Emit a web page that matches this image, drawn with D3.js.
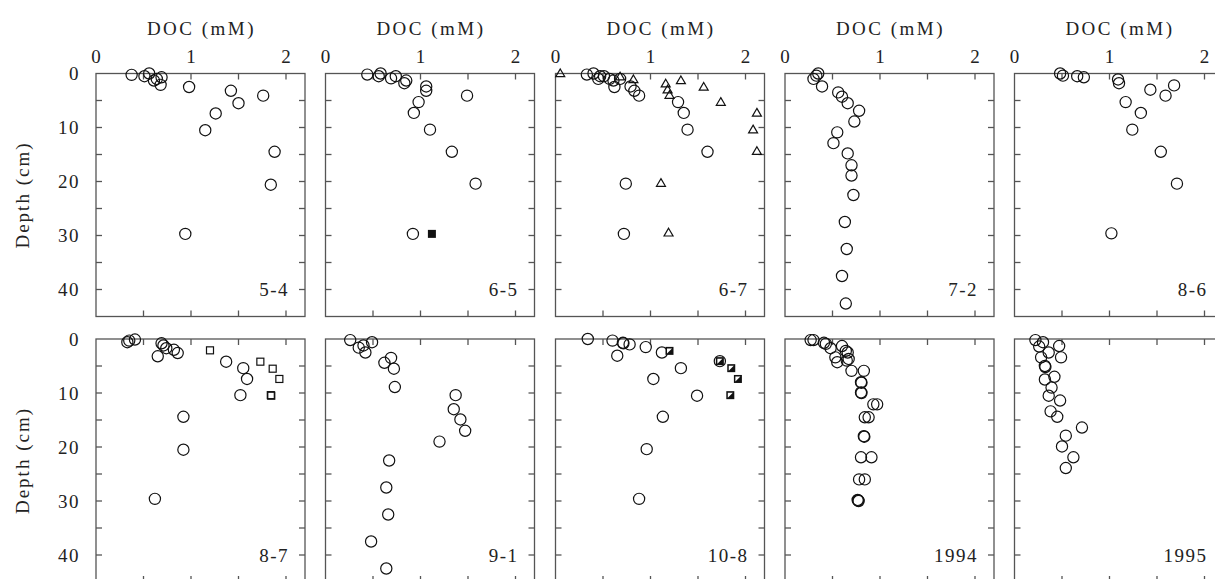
<!DOCTYPE html>
<html>
<head>
<meta charset="utf-8">
<script src="https://cdn.jsdelivr.net/npm/d3@7"></script>
<style>
  body { margin: 0; background: #fff; }
</style>
</head>
<body>
<div id="chart"></div>
<script>
// DOC (mM) vs depth (cm), [doc, depth]
var p54 = [[0.375,0.25],[0.51,0.5],[0.56,0],[0.61,1.3],[0.64,1.0],[0.68,2.1],[0.69,0.7],[0.98,2.5],
  [1.42,3.2],[1.50,5.5],[1.76,4.1],[1.26,7.4],[1.15,10.5],[1.88,14.5],[1.84,20.6],[0.94,29.7]];
var p65 = [[0.44,0.2],[0.58,0],[0.56,0.5],[0.69,0.9],[0.74,0.5],[0.83,1.8],[0.85,1.3],[1.06,2.4],
  [1.06,3.2],[1.49,4.1],[0.98,5.3],[0.93,7.3],[1.10,10.4],[1.33,14.5],[1.58,20.4],[0.92,29.7]];
var p65fill = [[1.12,29.7]];
var p67 = [[0.33,0.2],[0.40,0],[0.45,1.0],[0.47,0.5],[0.51,0.5],[0.57,1.0],[0.61,1.3],[0.62,2.5],
  [0.68,1.0],[0.79,2.4],[0.83,3.2],[0.88,4.1],[1.29,5.3],[1.35,7.3],[1.39,10.4],[1.60,14.5],
  [0.74,20.4],[0.72,29.7]];
var p67tri = [[0.05,0],[0.68,0.6],[0.82,1.1],[1.16,1.9],[1.18,3.0],[1.20,4.0],[1.32,1.3],[1.56,2.5],
  [1.74,5.3],[2.12,7.3],[2.08,10.4],[2.12,14.4],[1.11,20.3],[1.19,29.5]];
var p72 = [[0.35,0],[0.33,0.4],[0.30,1.0],[0.39,2.4],[0.56,3.5],[0.60,4.3],[0.66,5.5],[0.78,6.9],
  [0.73,8.9],[0.55,10.9],[0.51,12.9],[0.66,14.8],[0.70,17.0],[0.70,18.9],[0.72,22.5],[0.63,27.5],
  [0.65,32.5],[0.60,37.5],[0.64,42.6]];
var p86 = [[0.48,0],[0.51,0.4],[0.66,0.5],[0.73,0.7],[1.09,1.1],[1.10,1.8],[1.68,2.2],[1.43,3.0],
  [1.59,4.1],[1.17,5.3],[1.33,7.3],[1.24,10.4],[1.54,14.5],[1.71,20.4],[1.02,29.6]];
var p87 = [[0.33,0.6],[0.35,0.3],[0.41,0.1],[0.69,0.8],[0.71,1.2],[0.74,1.7],[0.65,3.2],[0.82,2.0],
  [0.86,2.6],[1.37,4.2],[1.55,5.4],[1.59,7.4],[1.52,10.4],[0.92,14.4],[0.92,20.5],[0.62,29.6]];
var p87sq = [[1.20,2.1],[1.73,4.2],[1.86,5.5],[1.93,7.4],[1.84,10.4],[1.845,10.5]];
var p91 = [[0.26,0.2],[0.35,1.6],[0.40,1.2],[0.42,2.5],[0.49,0.6],[0.69,3.5],[0.62,4.4],[0.72,5.5],
  [0.73,8.9],[1.37,10.4],[1.35,13.0],[1.42,14.9],[1.47,17.0],[1.20,19.0],[0.67,22.5],[0.64,27.5],
  [0.66,32.5],[0.48,37.5],[0.64,42.5]];
var p108 = [[0.34,0],[0.60,0.3],[0.71,0.7],[0.715,0.8],[0.78,1.0],[0.65,3.1],[0.95,1.5],[1.12,2.5],
  [1.32,5.4],[1.03,7.4],[1.49,10.5],[1.13,14.4],[0.96,20.4],[0.88,29.6],[1.73,4.1]];
var p108half = [[1.20,2.2],[1.73,4.1],[1.85,5.4],[1.92,7.4],[1.84,10.4]];
var p1994 = [[0.27,0.2],[0.30,0.2],[0.41,0.7],[0.43,0.9],[0.48,1.7],[0.60,1.3],[0.64,2.2],[0.66,2.5],
  [0.53,3.4],[0.55,4.3],[0.67,3.7],[0.65,4.0],[0.70,5.9],[0.83,5.9],[0.80,8.0],[0.805,8.1],
  [0.80,9.9],[0.805,10.0],[0.93,12.1],[0.97,12.1],[0.84,14.5],[0.88,14.5],[0.83,18.0],[0.835,18.1],
  [0.80,21.9],[0.91,21.9],[0.78,26.0],[0.84,26.0],[0.77,29.9],[0.775,30.0],[0.765,29.8]];
var p1995 = [[0.22,0.2],[0.30,0.6],[0.26,1.4],[0.36,2.5],[0.47,1.3],[0.49,3.4],[0.28,3.4],[0.32,5.0],
  [0.325,5.2],[0.32,7.5],[0.42,7.0],[0.39,9.0],[0.36,10.5],[0.48,11.4],[0.38,13.4],[0.45,14.4],
  [0.71,16.4],[0.54,17.9],[0.50,19.9],[0.62,21.9],[0.54,23.9]];

var panelLabels = ["5-4","6-5","6-7","7-2","8-6","8-7","9-1","10-8","1994","1995"];
var xTickLabels = [0, 1, 2];
var yTickLabels = [0, 10, 20, 30, 40];

var panels = [
  {circ: p54}, {circ: p65, fill: p65fill}, {circ: p67, tri: p67tri}, {circ: p72}, {circ: p86},
  {circ: p87, sq: p87sq}, {circ: p91}, {circ: p108, half: p108half}, {circ: p1994}, {circ: p1995}
];

var W = 1215, H = 579;
var pw = 209, ph = 243;
var lefts = [96, 325.5, 555.5, 785, 1014.5];
var tops = [73.5, 339];
var axisCol = "#555";
var serif = "'Liberation Serif', 'DejaVu Serif', serif";

var svg = d3.select("#chart").append("svg")
  .attr("width", W).attr("height", H)
  .attr("font-family", serif);

var x = d3.scaleLinear().domain([0, 2.2]).range([0, pw]);
var y = d3.scaleLinear().domain([0, 45]).range([0, ph]);

function label(sel) {
  return sel.attr("font-family", serif).attr("font-size", 19).attr("fill", "#222");
}

panels.forEach(function(p, i) {
  var row = Math.floor(i / 5), col = i % 5;
  var g = svg.append("g").attr("transform", "translate(" + lefts[col] + "," + tops[row] + ")");

  // frame
  g.append("rect").attr("width", pw).attr("height", ph)
    .attr("fill", "none").attr("stroke", axisCol).attr("stroke-width", 1.3);

  var xt = d3.range(0.5, 2.2, 0.5);
  g.selectAll(".xtt").data(xt).enter().append("line")
    .attr("x1", function(d){ return x(d); }).attr("x2", function(d){ return x(d); })
    .attr("y1", 0).attr("y2", 6).attr("stroke", axisCol).attr("stroke-width", 1.3);
  g.selectAll(".xtb").data(xt).enter().append("line")
    .attr("x1", function(d){ return x(d); }).attr("x2", function(d){ return x(d); })
    .attr("y1", ph).attr("y2", ph - 6).attr("stroke", axisCol).attr("stroke-width", 1.3);

  var yt = d3.range(5, 45, 5);
  g.selectAll(".ytl").data(yt).enter().append("line")
    .attr("x1", 0).attr("x2", 6)
    .attr("y1", function(d){ return y(d); }).attr("y2", function(d){ return y(d); })
    .attr("stroke", axisCol).attr("stroke-width", 1.3);
  g.selectAll(".ytr").data(yt).enter().append("line")
    .attr("x1", pw).attr("x2", pw - 6)
    .attr("y1", function(d){ return y(d); }).attr("y2", function(d){ return y(d); })
    .attr("stroke", axisCol).attr("stroke-width", 1.3);

  if (row == 0) {
    label(g.selectAll(".xl").data(xTickLabels).enter().append("text"))
      .attr("x", function(d){ return x(d); }).attr("y", -11)
      .attr("text-anchor", "middle")
      .text(function(d){ return d; });
    label(g.append("text")).attr("x", pw / 2 + 1).attr("y", -39)
      .attr("text-anchor", "middle")
      .style("letter-spacing", "2.5px")
      .text("DOC (mM)");
  }
  if (col == 0) {
    label(g.selectAll(".yl").data(yTickLabels).enter().append("text"))
      .attr("x", -16).attr("y", function(d){ return y(d); })
      .attr("dy", "0.35em").attr("text-anchor", "end")
      .style("letter-spacing", "1.5px")
      .text(function(d){ return d; });
    label(g.append("text"))
      .attr("transform", "translate(-67," + (ph / 2) + ") rotate(-90)")
      .attr("text-anchor", "middle")
      .style("letter-spacing", "2px")
      .text("Depth (cm)");
  }

  label(g.append("text")).attr("x", pw - 16).attr("y", y(40)).attr("dy", "0.35em")
    .attr("text-anchor", "end")
    .style("letter-spacing", "1.5px")
    .text(panelLabels[i]);

  var m = g.append("g");
  m.selectAll(".c").data(p.circ).enter().append("circle")
    .attr("cx", function(d){ return x(d[0]); }).attr("cy", function(d){ return y(d[1]); })
    .attr("r", 5.6).attr("fill", "none").attr("stroke", "#111").attr("stroke-width", 1.2);

  if (p.tri) {
    m.selectAll(".t").data(p.tri).enter().append("path")
      .attr("transform", function(d){ return "translate(" + x(d[0]) + "," + y(d[1]) + ")"; })
      .attr("d", "M0,-4.5L4.5,3.2L-4.5,3.2Z")
      .attr("fill", "none").attr("stroke", "#111").attr("stroke-width", 1.2);
  }
  if (p.sq) {
    m.selectAll(".s").data(p.sq).enter().append("rect")
      .attr("x", function(d){ return x(d[0]) - 3.5; }).attr("y", function(d){ return y(d[1]) - 3.5; })
      .attr("width", 7).attr("height", 7)
      .attr("fill", "none").attr("stroke", "#111").attr("stroke-width", 1.2);
  }
  if (p.fill) {
    m.selectAll(".f").data(p.fill).enter().append("rect")
      .attr("x", function(d){ return x(d[0]) - 4; }).attr("y", function(d){ return y(d[1]) - 4; })
      .attr("width", 8).attr("height", 8).attr("fill", "#111");
  }
  if (p.half) {
    var hg = m.selectAll(".h").data(p.half).enter().append("g")
      .attr("transform", function(d){ return "translate(" + x(d[0]) + "," + y(d[1]) + ")"; });
    hg.append("rect").attr("x", -4).attr("y", -4).attr("width", 8).attr("height", 8)
      .attr("fill", "#111");
    hg.append("path").attr("d", "M-2.5,2.5L2.5,-2.5L-2.5,-2.5Z").attr("fill", "#fff");
  }
});
</script>
</body>
</html>
